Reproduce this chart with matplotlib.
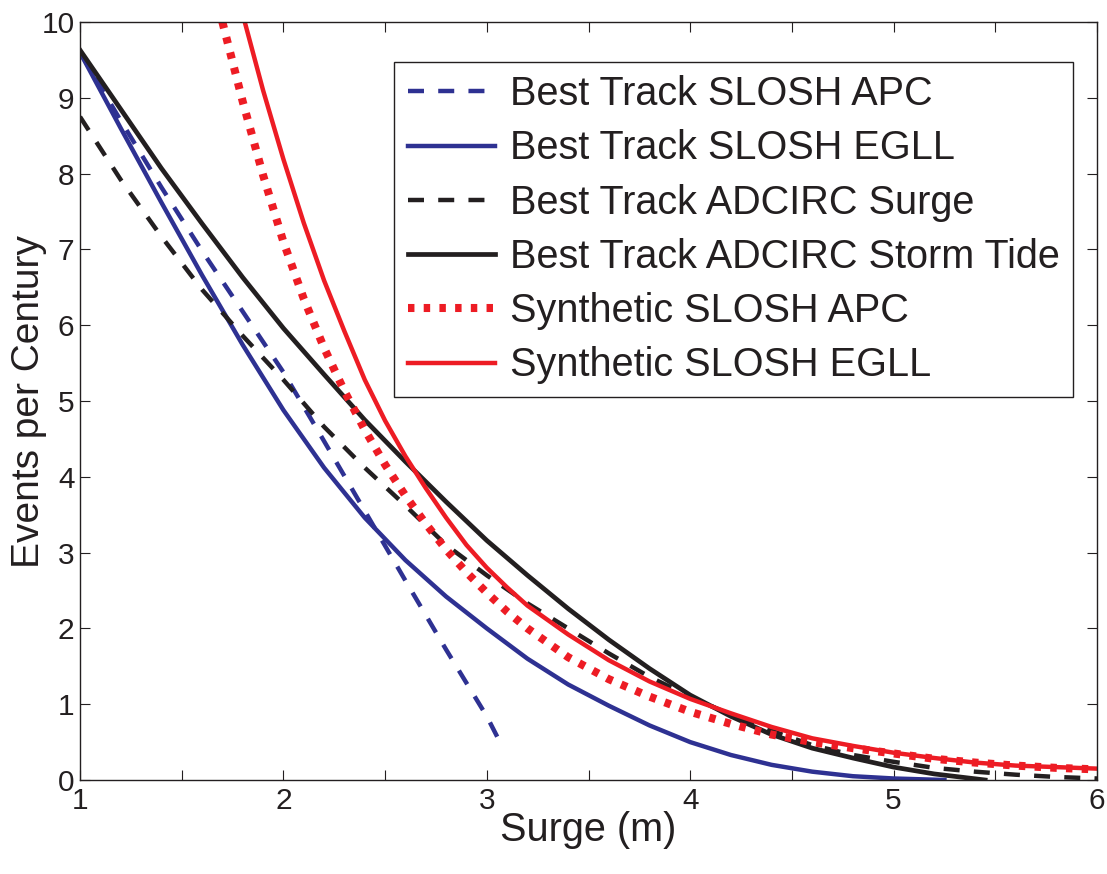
import numpy as np
import matplotlib
matplotlib.use('Agg')
import matplotlib.pyplot as plt

# values (surge in m, events per century)
bt_slosh_apc_x = [1.0, 1.2, 1.4, 1.6, 1.8, 2.0, 2.2, 2.4, 2.6, 2.8, 3.0, 3.08]
bt_slosh_apc_y = [9.6, 8.7, 7.82, 6.98, 6.18, 5.38, 4.47, 3.55, 2.63, 1.72, 0.84, 0.42]

bt_slosh_egll_x = [1.0, 1.2, 1.4, 1.6, 1.8, 2.0, 2.2, 2.4, 2.6, 2.8, 3.0,
                   3.2, 3.4, 3.6, 3.8, 4.0, 4.2, 4.4, 4.6, 4.8, 5.0, 5.25]
bt_slosh_egll_y = [9.6, 8.6, 7.62, 6.66, 5.74, 4.88, 4.12, 3.46, 2.9, 2.42, 2.0,
                   1.6, 1.26, 0.98, 0.72, 0.5, 0.33, 0.2, 0.11, 0.05, 0.02, 0.0]

bt_adcirc_surge_x = [1.0, 1.2, 1.4, 1.6, 1.8, 2.0, 2.2, 2.4, 2.6, 2.8, 3.0, 3.2, 3.4,
                     3.6, 3.8, 4.0, 4.2, 4.4, 4.6, 4.8, 5.0, 5.2, 5.4, 5.6, 5.8, 6.0]
bt_adcirc_surge_y = [8.75, 7.92, 7.17, 6.47, 5.86, 5.28, 4.66, 4.12, 3.62, 3.1, 2.7, 2.33, 2.0,
                     1.67, 1.36, 1.1, 0.86, 0.65, 0.46, 0.33, 0.24, 0.16, 0.11, 0.07, 0.04, 0.02]

bt_adcirc_tide_x = [1.0, 1.2, 1.4, 1.6, 1.8, 2.0, 2.2, 2.4, 2.6, 2.8, 3.0, 3.2,
                    3.4, 3.6, 3.8, 4.0, 4.2, 4.4, 4.6, 4.8, 5.0, 5.2, 5.45]
bt_adcirc_tide_y = [9.63, 8.85, 8.07, 7.34, 6.63, 5.96, 5.35, 4.75, 4.2, 3.67, 3.16, 2.7,
                    2.26, 1.85, 1.47, 1.12, 0.84, 0.6, 0.42, 0.29, 0.17, 0.08, 0.0]

syn_slosh_apc_x = [1.7, 1.8, 1.9, 2.0, 2.1, 2.2, 2.3, 2.4, 2.5, 2.6, 2.7, 2.8, 2.9, 3.0, 3.1,
                   3.2, 3.4, 3.6, 3.8, 4.0, 4.2, 4.4, 4.6, 4.8, 5.0, 5.2, 5.4, 5.6, 5.8, 6.0]
syn_slosh_apc_y = [10.0, 8.95, 7.98, 7.1, 6.35, 5.7, 5.13, 4.62, 4.16, 3.75, 3.38, 3.04, 2.74, 2.47, 2.22,
                   2.0, 1.62, 1.33, 1.1, 0.9, 0.74, 0.6, 0.5, 0.42, 0.35, 0.28, 0.23, 0.19, 0.16, 0.14]

syn_slosh_egll_x = [1.81, 1.9, 2.0, 2.1, 2.2, 2.3, 2.4, 2.5, 2.6, 2.7, 2.8, 2.9, 3.0, 3.1,
                    3.2, 3.4, 3.6, 3.8, 4.0, 4.2, 4.4, 4.6, 4.8, 5.0, 5.2, 5.4, 5.6, 5.8, 6.0]
syn_slosh_egll_y = [10.0, 9.1, 8.19, 7.35, 6.59, 5.92, 5.28, 4.74, 4.27, 3.85, 3.46, 3.1, 2.8, 2.54,
                    2.3, 1.92, 1.58, 1.3, 1.07, 0.88, 0.7, 0.55, 0.45, 0.36, 0.29, 0.23, 0.19, 0.17, 0.15]

blue = '#2E3192'
red = '#ED1C24'
black = '#231F20'

plt.rcParams['font.family'] = ['Liberation Sans', 'DejaVu Sans']

fig = plt.figure(figsize=(11.07, 8.74), dpi=100)
ax = fig.add_axes([80 / 1107, 1 - 780 / 874, 1017 / 1107, 758 / 874])

ax.plot(bt_slosh_apc_x, bt_slosh_apc_y, color=blue, lw=3.2, dashes=(3.6, 3.2),
        dash_capstyle='butt', label='Best Track SLOSH APC')
ax.plot(bt_slosh_egll_x, bt_slosh_egll_y, color=blue, lw=3.2,
        label='Best Track SLOSH EGLL')
ax.plot(bt_adcirc_surge_x, bt_adcirc_surge_y, color=black, lw=3.2, dashes=(3.6, 3.2),
        dash_capstyle='butt', label='Best Track ADCIRC Surge')
ax.plot(bt_adcirc_tide_x, bt_adcirc_tide_y, color=black, lw=3.4,
        label='Best Track ADCIRC Storm Tide')
ax.plot(syn_slosh_apc_x, syn_slosh_apc_y, color=red, lw=5.8, dashes=(0.8, 1.15),
        dash_capstyle='butt', label='Synthetic SLOSH APC')
ax.plot(syn_slosh_egll_x, syn_slosh_egll_y, color=red, lw=3.2,
        label='Synthetic SLOSH EGLL')

ax.set_xlim(1, 6)
ax.set_ylim(0, 10)
ax.set_xticks(range(1, 7))
ax.set_xticks(np.arange(1.5, 6, 1.0), minor=True)
ax.set_yticks(range(0, 11))
ax.tick_params(which='both', direction='in', top=True, right=True,
               length=7.2, width=0.8, labelsize=21.5, color=black, labelcolor=black)
ax.tick_params(axis='x', pad=5)
ax.tick_params(axis='y', pad=4)
for s in ax.spines.values():
    s.set_linewidth(1.0)
    s.set_color(black)

ax.set_xlabel('Surge (m)', fontsize=28.5, color=black)
ax.set_ylabel('Events per Century', fontsize=28, color=black)
ax.xaxis.set_label_coords(0.5, -0.041)
ax.yaxis.set_label_coords(-0.032, 0.5)

leg = ax.legend(loc='upper right', bbox_to_anchor=(0.976, 0.947), borderaxespad=0,
                fontsize=28.5, frameon=True, fancybox=False, framealpha=1,
                edgecolor=black, handlelength=2.2, handletextpad=0.38,
                labelspacing=0.41, borderpad=0.33)
leg.get_frame().set_linewidth(1.0)
for t in leg.get_texts():
    t.set_color(black)

fig.savefig('out.png', dpi=100)
